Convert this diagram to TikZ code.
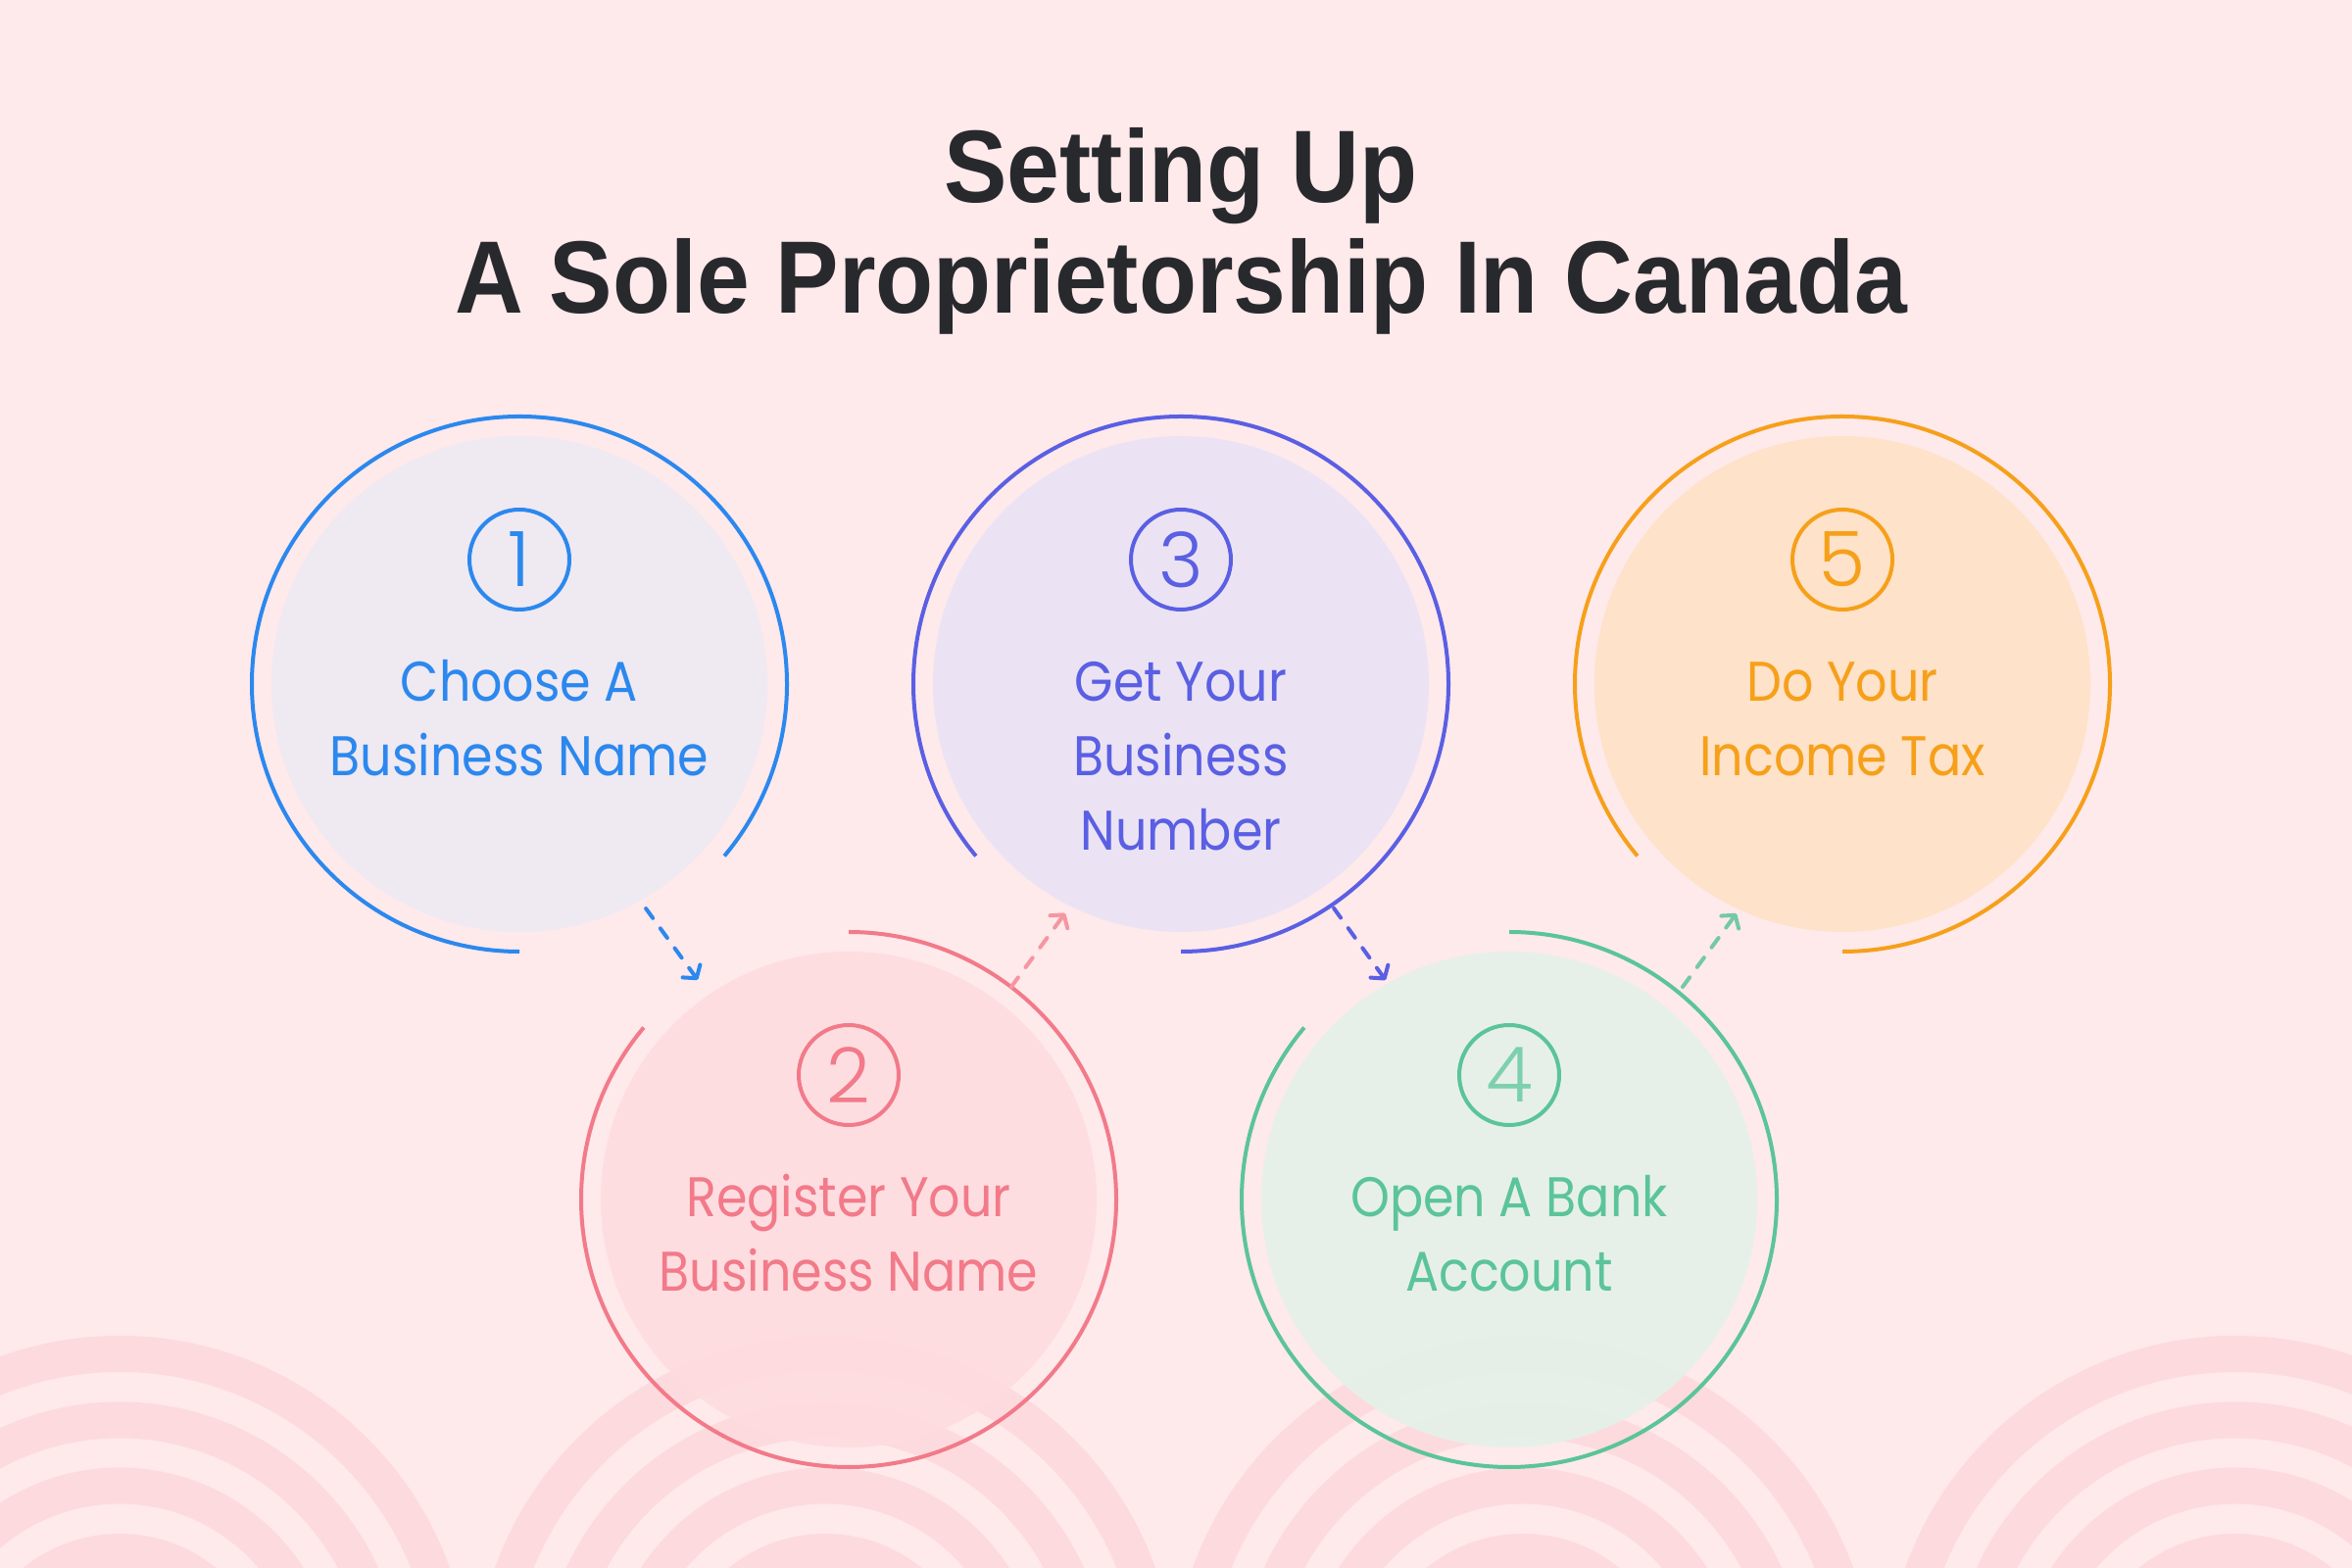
\documentclass[tikz,border=0pt]{standalone}
\usepackage{fontspec}
\setmainfont{Poppins}[FakeStretch=0.89]
\newfontfamily\titlefont{Liberation Sans}[FakeStretch=0.92]
\IfFontExistsTF{Poppins Light}{\newfontfamily\numfont{Poppins Light}}{\newfontfamily\numfont{Poppins}}
\usetikzlibrary{arrows.meta,calc}
\definecolor{bg}{HTML}{FEE9EB}
\definecolor{bandc}{HTML}{FDDADE}
\definecolor{titlec}{HTML}{27292D}
\definecolor{cA}{HTML}{2B88EE}
\definecolor{fA}{HTML}{EEEAF3}
\definecolor{cB}{HTML}{F27A89}
\definecolor{fB}{HTML}{FFDCE0}
\definecolor{cC}{HTML}{5A5FE3}
\definecolor{fC}{HTML}{E9E3F6}
\definecolor{cD}{HTML}{5BC499}
\definecolor{fD}{HTML}{E3F2E9}
\definecolor{cE}{HTML}{F6A01A}
\definecolor{fE}{HTML}{FFE2C5}
\newcommand\mlines[1]{\vtop{\baselineskip=76pt\lineskip=0pt\halign{\hfil##\hfil\cr#1\crcr}}}
\tikzset{
  disc/.style={circle, inner sep=0pt, minimum size=506pt, draw=none, fill opacity=0.88},
  ring/.style={line width=4pt},
  numc/.style={circle, inner sep=0pt, minimum size=102pt, line width=4pt,
    font=\numfont\fontsize{78}{78}\selectfont},
  label/.style={anchor=base, inner sep=0pt, font=\fontsize{57}{76}\selectfont},
  band/.style={draw=bandc, line width=37pt},
  arr/.style={line width=4pt, line cap=round, dash pattern=on 12pt off 13pt,
    -{Straight Barb[length=9pt,width=22pt,round]}},
}
\begin{document}
\begin{tikzpicture}[x=1pt,y=1pt]
\useasboundingbox (0,0) rectangle (2400,1600);
\clip (0,0) rectangle (2400,1600);
\fill[bg] (0,0) rectangle (2400,1600);
% background arcs
\foreach \cx in {122,842,1554,2281}{
  \foreach \r in {339.5,272,205,137.5}{
    \draw[band] (\cx,-121) circle[radius=\r];
  }
}
% title
\node[anchor=base, inner sep=0pt, text=titlec, font=\titlefont\bfseries\fontsize{105}{113}\selectfont] (title1) at (1205,1393) {Setting Up};
\node[anchor=base, inner sep=0pt, text=titlec, font=\titlefont\bfseries\fontsize{105}{113}\selectfont] (title2) at (1205,1280) {A Sole Proprietorship In Canada};
% discs
\node[disc, fill=fA] (c1) at (530,902) {};
\node[disc, fill=fB] (c2) at (866,376) {};
\node[disc, fill=fC] (c3) at (1205,902) {};
\node[disc, fill=fD] (c4) at (1540,376) {};
\node[disc, fill=fE] (c5) at (1880,902) {};
% rings
\draw[ring, cA] ($(c1)+(-40:273)$) arc[start angle=-40, end angle=270, radius=273];
\draw[ring, cB] ($(c2)+(140:273)$) arc[start angle=140, end angle=450, radius=273];
\draw[ring, cC] ($(c3)+(-90:273)$) arc[start angle=-90, end angle=220, radius=273];
\draw[ring, cD] ($(c4)+(140:273)$) arc[start angle=140, end angle=450, radius=273];
\draw[ring, cE] ($(c5)+(-90:273)$) arc[start angle=-90, end angle=220, radius=273];
% numbers
\node[numc, draw=cA, text=cA] (n1) at ($(c1)+(0,127)$) {1};
\node[numc, draw=cB, text=cB] (n2) at ($(c2)+(0,127)$) {2};
\node[numc, draw=cC, text=cC] (n3) at ($(c3)+(0,127)$) {3};
\node[numc, draw=cD, text=cD!75!fD] (n4) at ($(c4)+(0,127)$) {4};
\node[numc, draw=cE, text=cE] (n5) at ($(c5)+(0,127)$) {5};
% labels
\node[label, text=cA] (t1) at ($(c1)+(0,-18)$) {\mlines{Choose A\cr Business Name}};
\node[label, text=cB] (t2) at ($(c2)+(0,-18)$) {\mlines{Register Your\cr Business Name}};
\node[label, text=cC] (t3) at ($(c3)+(0,-18)$) {\mlines{Get Your\cr Business\cr Number}};
\node[label, text=cD] (t4) at ($(c4)+(0,-18)$) {\mlines{Open A Bank\cr Account}};
\node[label, text=cE] (t5) at ($(c5)+(0,-18)$) {\mlines{Do Your\cr Income Tax}};
% arrows
\draw[arr, cA] ($(c1)+(-60.6:263)$) -- ($(c2)+(124.5:272)$);
\draw[arr, cB!75!bg] ($(c2)+(52.6:273)$) -- ($(c3)+(243.2:262)$);
\draw[arr, cC] ($(c3)+(-55.7:277)$) -- ($(c4)+(119.4:257)$);
\draw[arr, cD!85!bg] ($(c4)+(50.8:280)$) -- ($(c5)+(245.2:258)$);
\end{tikzpicture}
\end{document}
